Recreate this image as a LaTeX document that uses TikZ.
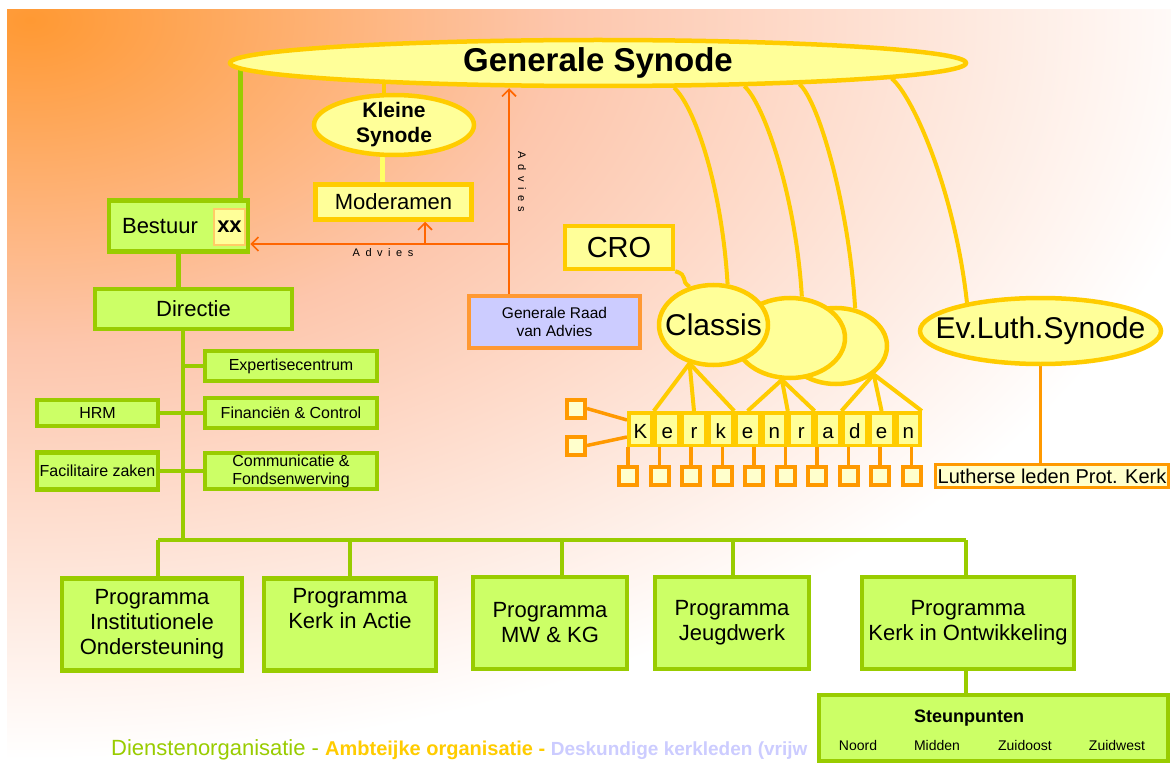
\documentclass[tikz,border=0pt]{standalone}
\usepackage{fontspec}
\setmainfont{Liberation Sans}
\usetikzlibrary{shapes.geometric,arrows.meta,calc}
\pgfdeclarelayer{bg}
\pgfsetlayers{bg,main}
\definecolor{gfill}{HTML}{CCFF66}
\definecolor{gdraw}{HTML}{99CC00}
\definecolor{yfill}{HTML}{FFFF99}
\definecolor{ydraw}{HTML}{FFCC00}
\definecolor{odraw}{HTML}{FF9900}
\definecolor{lfill}{HTML}{FFFFCC}
\definecolor{adraw}{HTML}{FF6600}
\definecolor{bgor}{HTML}{FF9933}
\definecolor{bgmid}{HTML}{FDC6AC}
\definecolor{lav}{HTML}{CCCCFF}
\definecolor{raad}{HTML}{FF9933}
\definecolor{xxdraw}{HTML}{FFCC66}
\definecolor{kslink}{HTML}{FFFF66}
\pgfdeclareradialshading{bgshade}{\pgfpoint{0bp}{0bp}}{color(0bp)=(bgor); color(11bp)=(bgmid); color(25bp)=(white); color(50bp)=(white)}
\newcommand{\fsz}[2]{\fontsize{#1}{#2}\selectfont}
\tikzset{
  gbox/.style={draw=gdraw, fill=gfill, line width=4.5pt, inner sep=0pt, align=center, text=black},
  ybox/.style={draw=ydraw, fill=yfill, line width=4.5pt, inner sep=0pt, align=center},
  yell/.style={ellipse, draw=ydraw, fill=yfill, line width=4.5pt, inner sep=0pt},
  kbox/.style={draw=ydraw, fill=yfill, line width=3.5pt, inner sep=0pt, minimum width=23.3pt, minimum height=32.5pt, text height=20pt, text depth=2pt, font=\fsz{20.5}{22}},
  sqbox/.style={draw=odraw, fill=lfill, line width=4pt, inner sep=0pt, minimum size=18pt},
  prog/.style={gbox, minimum height=92pt, font=\fsz{22}{25}},
  gconn/.style={draw=gdraw, line width=4.5pt},
  yconn/.style={draw=ydraw, line width=4pt},
  oconn/.style={draw=odraw, line width=3.5pt},
  aconn/.style={draw=adraw, line width=1.6pt},
  atip/.style={-{Straight Barb[length=7pt,width=14pt,line width=1.6pt]}},
  lbl/.style={inner sep=0pt, text=black, align=center},
}
\begin{document}
\begin{tikzpicture}[x=1pt,y=-1pt]
\useasboundingbox (0,0) rectangle (1171,765);
\begin{pgfonlayer}{bg}
\fill[white] (0,0) rectangle (1171,765);
\begin{scope}
\clip (7,10) rectangle (1171,765);
\shade[shading=bgshade] (30,20) ellipse [x radius=1200, y radius=740];
\end{scope}
\end{pgfonlayer}

% ---- ambtelijke organisatie
\node[yell, minimum width=736pt, minimum height=46pt, label={[lbl,font=\bfseries\fsz{33}{36}]center:Generale Synode}] (gs) at (598,63) {};
\node[yell, minimum width=160pt, minimum height=60pt, label={[lbl,font=\bfseries\fsz{21}{25}]center:Kleine\\Synode}] (ks) at (394,125) {};
\node[ybox, minimum width=156pt, minimum height=35pt, font=\fsz{22}{25}] (mod) at (393.5,202) {Moderamen};
\node[ybox, minimum width=108pt, minimum height=43pt, font=\fsz{29}{32}] (cro) at (619,247.5) {CRO};
\node[yell, minimum width=102pt, minimum height=76pt] (c3) at (836,346) {};
\node[yell, minimum width=110pt, minimum height=80pt] (c2) at (790,338) {};
\node[yell, minimum width=109pt, minimum height=80pt, label={[lbl,font=\fsz{30}{32}]center:Classis}] (c1) at (713.5,325) {};
\node[yell, minimum width=241pt, minimum height=66pt, label={[lbl,font=\fsz{30}{32}]center:Ev.Luth.Synode}] (ev) at (1040.5,331) {};
\node[draw=odraw, fill=lfill, line width=3.5pt, inner sep=0pt, minimum width=233pt, minimum height=23pt, font=\fsz{20}{22}] (luth) at (1052,476) {Lutherse leden Prot. Kerk};

% kerkenraden
\foreach \l [count=\i] in {K,e,r,k,e,n,r,a,d,e,n}
  \node[kbox] (k\i) at ({627+26.8*(\i-0.5)},429) {\l};
\foreach \i in {0,...,9}
  \node[sqbox] (s\i) at ({628+31.5*\i},476) {};
\node[sqbox] (la) at (576,408.5) {};
\node[sqbox] (lb) at (576,445.5) {};

% ---- dienstenorganisatie
\node[gbox, minimum width=139pt, minimum height=51pt] (bestuur) at (178.5,226) {};
\node[lbl, font=\fsz{22}{25}] (bestuurtxt) at (160,226) {Bestuur};
\node[draw=xxdraw, fill=yfill, line width=2pt, minimum width=31pt, minimum height=36pt, inner sep=0pt, font=\bfseries\fsz{22}{25}] (xx) at (229.5,227) {xx};
\node[gbox, minimum width=197pt, minimum height=40pt, font=\fsz{22}{25}] (dir) at (193.5,309) {Directie};
\node[gbox, minimum width=172pt, minimum height=30pt, font=\fsz{16}{18}] (exp) at (291,366) {Expertisecentrum};
\node[gbox, minimum width=172pt, minimum height=30pt, font=\fsz{16}{18}] (fin) at (291,413) {Financiën \& Control};
\node[gbox, minimum width=172pt, minimum height=36pt, font=\fsz{16}{18}] (com) at (291,471) {Communicatie \&\\Fondsenwerving};
\node[gbox, minimum width=121pt, minimum height=26pt, font=\fsz{16}{18}] (hrm) at (97.5,413) {HRM};
\node[gbox, minimum width=121pt, minimum height=37pt, font=\fsz{16}{18}] (fac) at (97.5,471) {Facilitaire zaken};

\node[prog, minimum width=180pt] (p1) at (152,624.5) {Programma\\Institutionele\\Ondersteuning};
\node[prog, minimum width=172pt] (p2) at (350,624.5) {Programma\\Kerk in Actie\\\strut};
\node[prog, minimum width=154pt] (p3) at (550,623) {Programma\\MW \& KG};
\node[prog, minimum width=154pt] (p4) at (732,623) {Programma\\Jeugdwerk};
\node[prog, minimum width=212pt] (p5) at (968,623) {Programma\\Kerk in Ontwikkeling};

% legend (its end is hidden behind Steunpunten)
\begin{scope}
\clip (100,730) rectangle (815,765);
\node[lbl, anchor=west, font=\fsz{22}{26}] (legend) at (111,750) {\textcolor{gdraw}{Dienstenorganisatie - }{\fsz{20}{26}\bfseries\textcolor{ydraw}{Ambteijke organisatie - }\fsz{19}{26}\textcolor{lav}{Deskundige kerkleden (vrijw}}};
\end{scope}

\node[gbox, minimum width=349pt, minimum height=66pt] (steun) at (993.5,728) {};
\node[lbl, font=\bfseries\fsz{18}{20}] (steunt) at (969,718) {Steunpunten};
\node[lbl, font=\fsz{14}{16}] (noord) at (858,745) {Noord};
\node[lbl, font=\fsz{14}{16}] (midden) at (937,745) {Midden};
\node[lbl, font=\fsz{14}{16}] (zo) at (1025,745) {Zuidoost};
\node[lbl, font=\fsz{14}{16}] (zw) at (1117,745) {Zuidwest};

% ---- deskundige kerkleden
\node[draw=raad, fill=lav, line width=4pt, inner sep=0pt, minimum width=171pt, minimum height=52pt, align=center, font=\fsz{15.5}{18}] (gra) at (554.5,322) {Generale Raad\\van Advies};

% ---- connectors (behind the nodes)
\coordinate (bgs) at ($(bestuur.north east)+(-10,0)$);
\coordinate (ksx) at ($(ks.center)+(-10,0)$);
\coordinate (ksm) at ($(ks.center)+(-12,0)$);
\coordinate (bus) at (183,540);
\coordinate (d1) at (158,540);
\coordinate (d2) at (350,540);
\coordinate (d3) at (562,540);
\coordinate (d4) at (733,540);
\coordinate (d5) at (966,540);
\begin{pgfonlayer}{bg}
\draw[gconn] (bgs) -- (bgs |- gs.center);
\draw[gconn] (bestuur.south) -- (bestuur.south |- dir.north);
\draw[gconn] (dir.south -| bus) -- (bus);
\draw[gconn] (bus |- exp) -- (exp);
\draw[gconn] (hrm) -- (fin);
\draw[gconn] (fac) -- (com);
\draw[gconn] (d1) -- (d5);
\foreach \d/\p in {d1/p1,d2/p2,d3/p3,d4/p4,d5/p5}
  \draw[gconn] (\d) -- (\d |- \p.north);
\draw[gconn] (d5 |- p5.south) -- (d5 |- steun.north);

\draw[yconn] (ksx) -- (ksx |- gs.center);
\draw[draw=kslink, line width=5pt] (ksm) -- (ksm |- mod.center);
\draw[yconn] (gs.342) .. controls +(20,18) and +(-6,-100) .. (c1.71);
\draw[yconn] (gs.351) .. controls +(20,18) and +(-6,-100) .. (c2.74);
\draw[yconn] (gs.354) .. controls +(20,18) and +(-6,-100) .. (c3.63);
\draw[yconn] (gs.357) .. controls +(22,18) and +(-12,-110) .. (ev.159);
\draw[yconn] (cro.south east) .. controls +(14,4) and +(-10,-6) .. (c1.122);
\foreach \t in {k1.north east, k3.north, k4.north east}
  \draw[yconn] (c1.238) -- (\t);
\foreach \t in {k5.north, k6.north east, k7.north east}
  \draw[yconn] (c2.259) -- (\t);
\foreach \t in {k8.north east, k10.north, k11.north east}
  \draw[yconn] (c3.323) -- (\t);

\foreach \i in {0,...,9}
  \draw[oconn] (s\i.north) -- (s\i.north |- k1.south);
\draw[oconn] (la.east) -- ($(k1.west)+(0,-9)$);
\draw[oconn] (lb.east) -- ($(k1.west)+(0,8)$);
\draw[oconn] (ev.south) -- (ev.south |- luth.north);
\end{pgfonlayer}

% ---- advies arrows
\coordinate (av) at (509,244);
\coordinate (am) at (425,244);
\draw[aconn, atip] (gra.north -| av) -- (av |- gs.south);
\draw[aconn, atip] (av) -- (bestuur.east |- av);
\draw[aconn, atip] (am) -- (am |- mod.south);
\node[lbl, font=\fsz{11}{12}\addfontfeatures{LetterSpace=50}] (advh) at (383,253) {Advies};
\node[lbl, rotate=-90, font=\fsz{11}{12}\addfontfeatures{LetterSpace=50}] (advv) at (522,182) {Advies};
\end{tikzpicture}
\end{document}
